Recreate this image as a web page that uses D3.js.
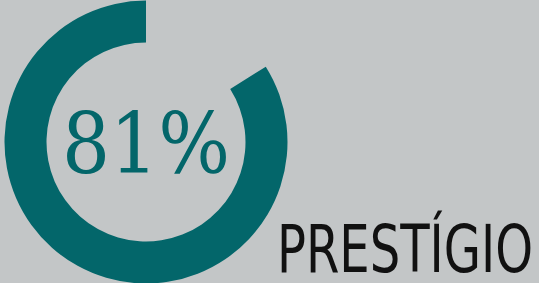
<!DOCTYPE html>
<html><head><meta charset="utf-8">
<script src="https://cdn.jsdelivr.net/npm/d3@7"></script>
<style>html,body{margin:0;padding:0;background:#c3c6c7;overflow:hidden}</style>
</head><body>
<svg id="c" width="539" height="283"></svg>
<script>
const labels = ["PRESTÍGIO"];
const values = [81];
const gaugeMax = [96.5]; // arc extent
const W = 539, H = 283;
const svg = d3.select("#c");
svg.append("rect").attr("width", W).attr("height", H).attr("fill", "#c3c6c7");
const cx = 146, cy = 142, rOuter = 141.5, rInner = 99.5;
const angle = d3.scaleLinear().domain([0, gaugeMax[0]]).range([0, -2 * Math.PI]);
const arc = d3.arc().innerRadius(rInner).outerRadius(rOuter);
const g = svg.append("g").attr("transform", `translate(${cx},${cy})`);
g.selectAll("path").data(values).join("path")
  .attr("d", d => arc({startAngle: 0, endAngle: angle(d)}))
  .attr("fill", "#03666a");
g.selectAll("text.v").data(values).join("text").attr("class", "v")
  .attr("x", 0).attr("y", 31)
  .attr("text-anchor", "middle")
  .attr("font-family", "DejaVu Serif Condensed, DejaVu Serif")
  .attr("font-stretch", "condensed")
  .attr("font-size", 84)
  .attr("fill", "#03666a")
  .text(d => d + "%");
svg.selectAll("text.l").data(labels).join("text").attr("class", "l")
  .attr("x", 277).attr("y", 272)
  .attr("font-family", "DejaVu Sans Condensed, DejaVu Sans")
  .attr("font-stretch", "condensed")
  .attr("font-size", 66)
  .attr("textLength", 256).attr("lengthAdjust", "spacingAndGlyphs")
  .attr("fill", "#111")
  .text(d => d);
</script>
</body></html>
